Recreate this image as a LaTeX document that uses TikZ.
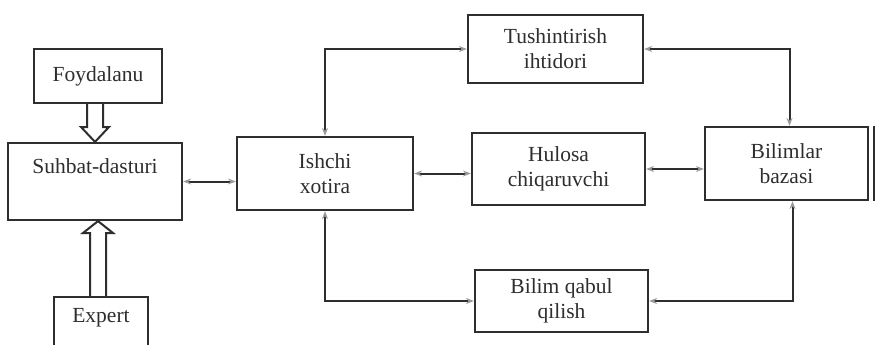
\documentclass[tikz,border=0pt]{standalone}
\usepackage{fontspec}
\setmainfont{Liberation Serif}
\usetikzlibrary{calc,arrows.meta}
\definecolor{ink}{HTML}{2E2E2E}
\definecolor{tipgray}{HTML}{9A9A9A}
\begin{document}
\begin{tikzpicture}[x=1pt,y=-1pt,
  font=\fontsize{21.5}{25}\selectfont,
  box/.style={draw=ink, line width=2.2pt, rectangle, inner sep=0pt,
    align=center, text=ink},
  lbl/.style={text=ink, align=center, inner sep=0pt},
  link/.style={ink, line width=2pt,
    {Stealth[length=8pt,width=6pt,color=tipgray]}-{Stealth[length=8pt,width=6pt,color=tipgray]}},
  hollow/.style={draw=ink, line width=2pt, fill=white, line join=miter}]
\useasboundingbox (0,0) rectangle (876,345);
\fill[white] (0,0) rectangle (876,345);

% left column
\node[box, minimum width=128pt, minimum height=54pt] (foyd) at (98,76) {Foydalanu};
\node[box, minimum width=174pt, minimum height=77pt] (suhbat) at (95,181.5) {};
\node[lbl] (suhbatlbl) at (95,166) {Suhbat-dasturi};
\begin{scope}
  \clip (0,0) rectangle (876,345);
  \node[box, minimum width=94pt, minimum height=70pt] (expert) at (101,332) {};
\end{scope}
\node[lbl] (expertlbl) at (101,318) {Expert};

% centre and right blocks
\node[box, minimum width=176pt, minimum height=73pt] (ishchi) at (325,173.5) {Ishchi\\xotira};
\node[box, minimum width=175pt, minimum height=68pt] (tush) at (555.5,49) {Tushintirish\\ihtidori};
\node[box, minimum width=173pt, minimum height=72pt] (hulosa) at (558.5,169) {Hulosa\\chiqaruvchi};
\node[box, minimum width=163pt, minimum height=73pt] (baza) at (786.5,163.5) {Bilimlar\\bazasi};
\draw[ink, line width=2pt] ($(baza.north east)+(5,0)$) -- ($(baza.south east)+(5,0)$);
\node[box, minimum width=173pt, minimum height=62pt] (qabul) at (561.5,301) {Bilim qabul\\qilish};

% hollow block arrows into the dialogue program
\draw[hollow] let \p1=(suhbat.north), \p2=(foyd.south) in
  (\x1-8,\y2) -- (\x1-8,127) -- (\x1-14,127) -- (\x1,\y1) -- (\x1+14,127)
  -- (\x1+8,127) -- (\x1+8,\y2);
\draw[hollow] let \p1=(suhbat.south), \p2=(expert.north) in
  (\x1+3-8,\y2) -- (\x1+3-8,233) -- (\x1+3-15,233) -- (\x1+3,\y1) -- (\x1+3+15,233)
  -- (\x1+3+8,233) -- (\x1+3+8,\y2);

% connectors
\draw[link] (suhbat.east) -- (suhbat.east -| ishchi.west);
\draw[link] (ishchi.north) |- (tush.west);
\draw[link] (tush.east) -| ($(baza.north)+(3,0)$);
\draw[link] (ishchi.east) -- (ishchi.east -| hulosa.west);
\draw[link] (hulosa.east) -- (hulosa.east -| baza.west);
\draw[link] ($(baza.south)+(6,0)$) |- (qabul.east);
\draw[link] (ishchi.south) |- (qabul.west);
\end{tikzpicture}
\end{document}
